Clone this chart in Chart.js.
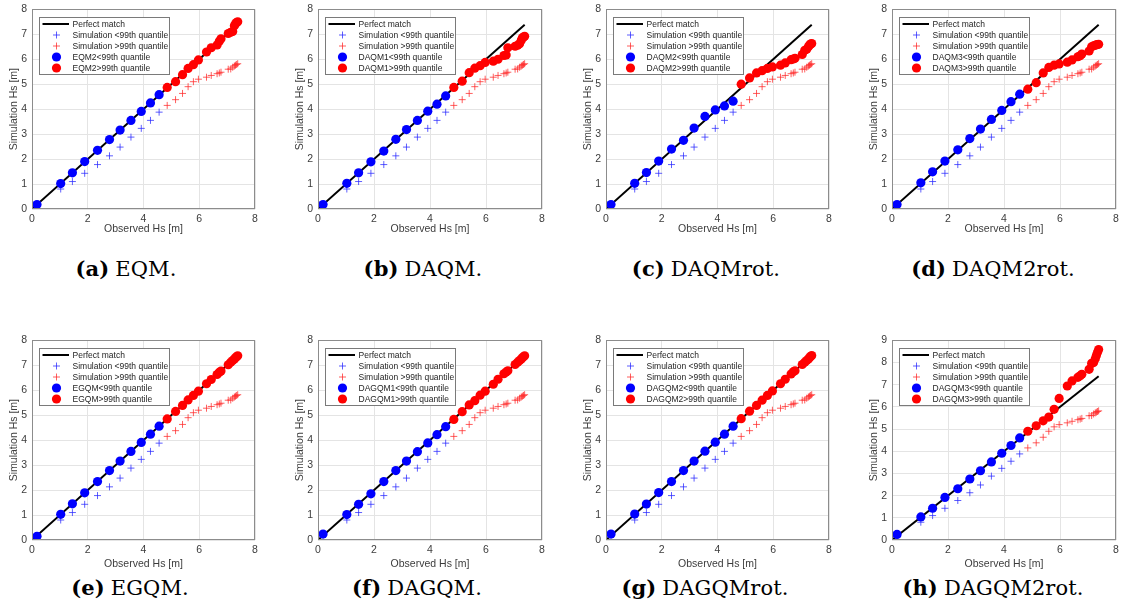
<!DOCTYPE html>
<html>
<head>
<meta charset="utf-8">
<script src="https://cdn.jsdelivr.net/npm/chart.js@4.4.1/dist/chart.umd.min.js"></script>
<style>
  html, body { margin: 0; padding: 0; background: #fff; }
  body { width: 1128px; height: 615px; position: relative; overflow: hidden; }
  canvas.panel { position: absolute; }
  .cap {
    position: absolute; transform: translate(-50%, -50%);
    font-family: "DejaVu Serif", serif; font-size: 21px; color: #000;
    white-space: nowrap; letter-spacing: 0.1px;
  }
  .cap b { font-weight: bold; margin-right: 6px; }
</style>
</head>
<body>
<script>
// Observed Hs quantiles, split at the 99th percentile
const obsLow  = [0.18, 1.03, 1.45, 1.89, 2.35, 2.78, 3.16, 3.55, 3.92, 4.25, 4.56];
const obsHigh = [4.85, 5.15, 5.40, 5.60, 5.79, 5.97, 6.26, 6.43, 6.64, 6.72, 6.78, 7.04, 7.13, 7.20, 7.26, 7.30, 7.34, 7.38];

// Raw simulation quantiles (same in every panel)
const simLow  = [0.15, 0.80, 1.10, 1.43, 1.78, 2.13, 2.48, 2.88, 3.23, 3.55, 3.88];
const simHigh = [4.15, 4.38, 4.63, 4.90, 5.10, 5.20, 5.28, 5.35, 5.42, 5.45, 5.48, 5.60, 5.61, 5.68, 5.73, 5.76, 5.79, 5.82];

// Corrected quantiles per method
const eqm2Low    = [0.18, 1.02, 1.45, 1.90, 2.35, 2.78, 3.16, 3.55, 3.91, 4.25, 4.58];
const eqm2High   = [4.87, 5.10, 5.38, 5.63, 5.78, 5.97, 6.29, 6.46, 6.57, 6.72, 6.82, 7.03, 7.08, 7.11, 7.34, 7.42, 7.47, 7.50];
const daqm1Low   = [0.18, 1.03, 1.45, 1.89, 2.32, 2.79, 3.18, 3.55, 3.92, 4.20, 4.53];
const daqm1High  = [4.87, 5.12, 5.46, 5.64, 5.74, 5.87, 5.92, 6.00, 6.15, 6.17, 6.46, 6.52, 6.56, 6.62, 6.76, 6.86, 6.89, 6.92];
const daqm2Low   = [0.18, 1.03, 1.46, 1.92, 2.40, 2.75, 3.24, 3.71, 3.97, 4.13, 4.32];
const daqm2High  = [5.00, 5.25, 5.45, 5.54, 5.63, 5.69, 5.76, 5.85, 5.98, 6.01, 6.04, 6.19, 6.36, 6.40, 6.50, 6.57, 6.61, 6.63];
const daqm3Low   = [0.18, 1.05, 1.49, 1.92, 2.37, 2.82, 3.20, 3.59, 3.95, 4.30, 4.60];
const daqm3High  = [4.80, 5.06, 5.45, 5.67, 5.76, 5.81, 5.88, 5.97, 6.10, 6.14, 6.21, 6.33, 6.50, 6.54, 6.56, 6.58, 6.59, 6.60];
const egqmLow    = [0.15, 1.03, 1.45, 1.89, 2.34, 2.78, 3.16, 3.55, 3.91, 4.24, 4.56];
const egqmHigh   = [4.85, 5.15, 5.39, 5.61, 5.79, 5.96, 6.26, 6.43, 6.63, 6.72, 6.77, 7.02, 7.12, 7.19, 7.25, 7.30, 7.34, 7.38];
const dagqm1Low  = [0.24, 1.02, 1.43, 1.85, 2.34, 2.78, 3.16, 3.54, 3.89, 4.22, 4.54];
const dagqm1High = [4.83, 5.14, 5.41, 5.58, 5.80, 5.96, 6.24, 6.44, 6.66, 6.73, 6.78, 7.03, 7.12, 7.19, 7.25, 7.30, 7.34, 7.38];
const dagqm2Low  = [0.24, 1.04, 1.44, 1.90, 2.34, 2.78, 3.16, 3.56, 3.92, 4.24, 4.56];
const dagqm2High = [4.86, 5.16, 5.39, 5.60, 5.79, 5.97, 6.26, 6.44, 6.65, 6.74, 6.78, 7.03, 7.12, 7.19, 7.25, 7.30, 7.35, 7.39];
const dagqm3Low  = [0.25, 1.04, 1.43, 1.92, 2.31, 2.75, 3.12, 3.52, 3.91, 4.26, 4.60];
const dagqm3High = [4.90, 5.15, 5.37, 5.54, 5.89, 6.38, 6.94, 7.17, 7.33, 7.40, 7.47, 7.69, 7.96, 8.00, 8.17, 8.32, 8.46, 8.58];

// 1:1 reference line end points
const perfectLine = [0, 7.38];

// Panel names, caption letters and captions
const methodNames = ['EQM2', 'DAQM1', 'DAQM2', 'DAQM3', 'EGQM', 'DAGQM1', 'DAGQM2', 'DAGQM3'];
const capLetters  = ['(a)', '(b)', '(c)', '(d)', '(e)', '(f)', '(g)', '(h)'];
const capTitles   = ['EQM.', 'DAQM.', 'DAQMrot.', 'DAQM2rot.', 'EGQM.', 'DAGQM.', 'DAGQMrot.', 'DAGQM2rot.'];
const corrLow  = [eqm2Low, daqm1Low, daqm2Low, daqm3Low, egqmLow, dagqm1Low, dagqm2Low, dagqm3Low];
const corrHigh = [eqm2High, daqm1High, daqm2High, daqm3High, egqmHigh, dagqm1High, dagqm2High, dagqm3High];
const yMaxes   = [8, 8, 8, 8, 8, 8, 8, 9];
const xTicks = [0, 2, 4, 6, 8];

// Layout of the 2x4 grid (plot-area pixel rectangles)
const colLeft  = [32, 318, 606, 892];
const colRight = [255, 542, 829, 1116];
const rowTop   = [6, 337];
const rowBot   = [209, 540];
const capX = [[126, 423, 706, 993], [130, 417, 705, 993]];
const capY = [268, 587];
const xTitleGap = [20.5, 24.5];

const AX_W = 40, AX_H = 32, PAD_T = 8, PAD_R = 12;
const TICK_FONT = { family: 'Liberation Sans, Arial, sans-serif', size: 10.5 };
const TEXT_COL = '#3c3c3c';

const pts = (xs, ys) => xs.map((x, i) => ({ x: x, y: ys[i] }));

// Axes box drawn around the plot area
const frameBox = {
  id: 'frameBox',
  afterDatasetsDraw(chart) {
    const { ctx, chartArea: a } = chart;
    ctx.save();
    ctx.strokeStyle = '#8c8c8c';
    ctx.lineWidth = 1;
    ctx.strokeRect(Math.round(a.left) + 0.5, Math.round(a.top) + 0.5,
                   Math.round(a.right - a.left) - 1, Math.round(a.bottom - a.top) - 1);
    ctx.restore();
  }
};

// Boxed legend in the upper-left corner of the axes
const insetLegend = {
  id: 'insetLegend',
  afterDraw(chart) {
    const { ctx, chartArea: a } = chart;
    const bx = Math.round(a.left + 6.5), by = Math.round(a.top + 7.5), bw = 130, bh = 57;
    ctx.save();
    ctx.fillStyle = '#ffffff';
    ctx.fillRect(bx, by, bw, bh);
    ctx.strokeStyle = '#7a7a7a';
    ctx.lineWidth = 1;
    ctx.strokeRect(bx + 0.5, by + 0.5, bw, bh);
    chart.data.datasets.forEach((ds, i) => {
      const y = by + 7 + i * 11;
      const mx = bx + 17.5;
      if (ds.type === 'line') {
        ctx.strokeStyle = ds.borderColor;
        ctx.lineWidth = ds.borderWidth;
        ctx.beginPath();
        ctx.moveTo(bx + 3.5, y);
        ctx.lineTo(bx + 30, y);
        ctx.stroke();
      } else if (ds.pointStyle === 'cross') {
        const r = ds.pointRadius;
        ctx.strokeStyle = ds.borderColor;
        ctx.lineWidth = ds.borderWidth;
        ctx.beginPath();
        ctx.moveTo(mx - r, y); ctx.lineTo(mx + r, y);
        ctx.moveTo(mx, y - r); ctx.lineTo(mx, y + r);
        ctx.stroke();
      } else {
        ctx.fillStyle = ds.backgroundColor;
        ctx.beginPath();
        ctx.arc(mx, y, ds.pointRadius, 0, Math.PI * 2);
        ctx.fill();
      }
      ctx.fillStyle = '#1e1e1e';
      ctx.font = '8.5px "Liberation Sans", Arial, sans-serif';
      ctx.textBaseline = 'middle';
      ctx.textAlign = 'left';
      ctx.fillText(ds.label, bx + 33.5, y + 0.5);
    });
    ctx.restore();
  }
};

for (let p = 0; p < 8; p++) {
  const row = Math.floor(p / 4), col = p % 4;
  const L = colLeft[col], R = colRight[col], T = rowTop[row], B = rowBot[row];
  const W = R - L, H = B - T;

  const cv = document.createElement('canvas');
  cv.className = 'panel';
  cv.width = W + AX_W + PAD_R;
  cv.height = H + PAD_T + AX_H;
  cv.style.left = (L - AX_W) + 'px';
  cv.style.top = (T - PAD_T) + 'px';
  cv.style.width = cv.width + 'px';
  cv.style.height = cv.height + 'px';
  document.body.appendChild(cv);

  const cap = document.createElement('div');
  cap.className = 'cap';
  cap.style.left = capX[row][col] + 'px';
  cap.style.top = capY[row] + 'px';
  cap.innerHTML = '<b>' + capLetters[p] + '</b>' + capTitles[p];
  document.body.appendChild(cap);

  const m = methodNames[p];
  new Chart(cv, {
    data: {
      datasets: [
        { type: 'line', label: 'Perfect match',
          data: pts(perfectLine, perfectLine),
          borderColor: '#000000', borderWidth: 2, pointRadius: 0, fill: false, order: 5 },
        { type: 'scatter', label: 'Simulation <99th quantile',
          data: pts(obsLow, simLow), pointStyle: 'cross', pointRadius: 3.5,
          borderColor: 'rgba(40,40,255,0.75)', backgroundColor: 'rgba(40,40,255,0.75)', borderWidth: 1, order: 4 },
        { type: 'scatter', label: 'Simulation >99th quantile',
          data: pts(obsHigh, simHigh), pointStyle: 'cross', pointRadius: 3.5,
          borderColor: 'rgba(255,40,40,0.75)', backgroundColor: 'rgba(255,40,40,0.75)', borderWidth: 1, order: 3 },
        { type: 'scatter', label: m + '<99th quantile',
          data: pts(obsLow, corrLow[p]), pointStyle: 'circle', pointRadius: 4.6,
          backgroundColor: '#0000ff', borderColor: '#0000ff', borderWidth: 0, order: 2 },
        { type: 'scatter', label: m + '>99th quantile',
          data: pts(obsHigh, corrHigh[p]), pointStyle: 'circle', pointRadius: 4.6,
          backgroundColor: '#ff0000', borderColor: '#ff0000', borderWidth: 0, order: 1 }
      ]
    },
    options: {
      responsive: false,
      animation: false,
      devicePixelRatio: 1,
      layout: { padding: { left: 0, top: PAD_T, right: PAD_R, bottom: 0 } },
      plugins: { legend: { display: false }, tooltip: { enabled: false } },
      scales: {
        x: {
          type: 'linear', min: 0, max: 8,
          afterBuildTicks: s => { s.ticks = xTicks.map(v => ({ value: v })); },
          afterFit: s => { s.height = AX_H; },
          grid: { color: '#e4e4e4', lineWidth: 1, drawTicks: false },
          border: { display: false },
          ticks: { font: TICK_FONT, color: TEXT_COL, padding: 3.7, maxRotation: 0 },
          title: { display: true, text: 'Observed Hs [m]', font: TICK_FONT, color: TEXT_COL,
                   padding: { top: 0, bottom: AX_H - xTitleGap[row] - 6.3 } }
        },
        y: {
          type: 'linear', min: 0, max: yMaxes[p],
          ticks: { stepSize: 1, font: TICK_FONT, color: TEXT_COL, padding: 5 },
          afterFit: s => { s.width = AX_W; },
          grid: { color: '#e4e4e4', lineWidth: 1, drawTicks: false },
          border: { display: false },
          title: { display: true, text: 'Simulation Hs [m]', font: TICK_FONT, color: TEXT_COL,
                   padding: { top: AX_W - 18 - 6.3, bottom: 0 } }
        }
      }
    },
    plugins: [frameBox, insetLegend]
  });
}
</script>
</body>
</html>
